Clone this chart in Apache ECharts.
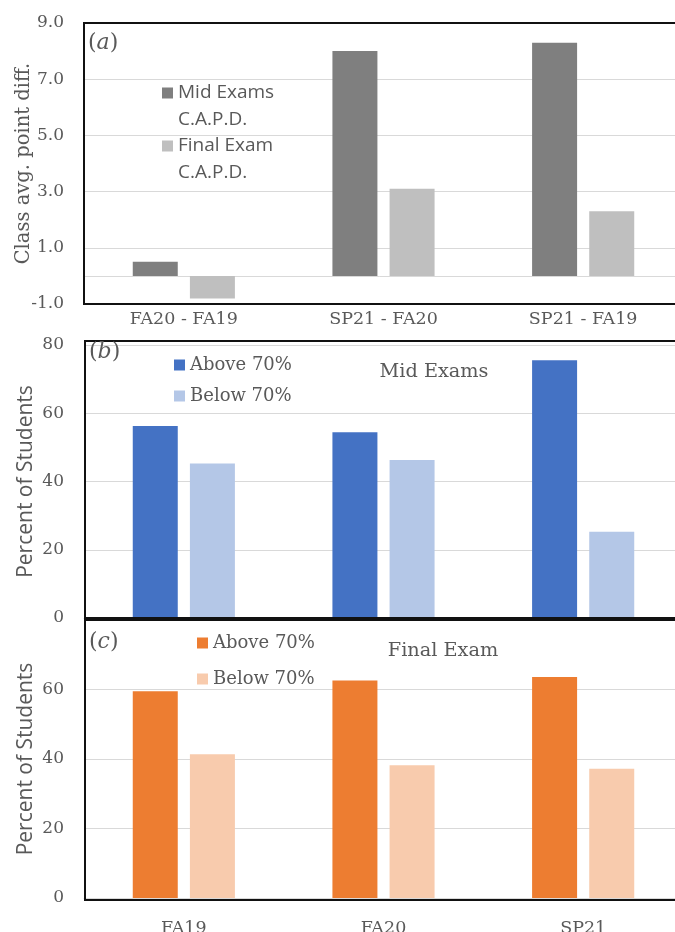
<!DOCTYPE html>
<html>
<head>
<meta charset="utf-8">
<script src="https://cdn.jsdelivr.net/npm/echarts@6/dist/echarts.min.js"></script>
<style>
html,body{margin:0;padding:0;background:#fff;}
#chart{width:675px;height:932px;}
</style>
</head>
<body>
<div id="chart"></div>
<script>
// ---- data ----
const diffCategories = ['FA20 - FA19', 'SP21 - FA20', 'SP21 - FA19'];
const midExamsCAPD = [0.5, 8.0, 8.3];
const finalExamCAPD = [-0.8, 3.1, 2.3];
const diffTicks = [-1, 1, 3, 5, 7, 9];

const terms = ['FA19', 'FA20', 'SP21'];
const midAbove70 = [56.3, 54.4, 75.5];
const midBelow70 = [45.3, 46.3, 25.3];
const finalAbove70 = [59.5, 62.6, 63.6];
const finalBelow70 = [41.4, 38.2, 37.2];
const percentTicks = [0, 20, 40, 60, 80];

// ---- style ----
const SERIF = 'DejaVu Serif';
const SANS = 'Open Sans';
const TXT = '#595959';
const GRID = '#d9d9d9';

const chart = echarts.init(document.getElementById('chart'), null, {renderer: 'canvas'});

function yAxisCommon(grid, ticks, name, nameFont, nameSize, nameGap, fmt, showMax) {
  return {
    gridIndex: grid, type: 'value',
    min: ticks[0], max: ticks[ticks.length - 1], interval: ticks[1] - ticks[0],
    name: name, nameLocation: 'middle', nameGap: nameGap, nameMoveOverlap: false,
    nameTextStyle: {fontFamily: nameFont, fontSize: nameSize, color: TXT},
    axisLine: {show: false}, axisTick: {show: false},
    axisLabel: {margin: 20, fontFamily: SERIF, fontSize: 17, color: TXT, formatter: fmt, showMaxLabel: showMax},
    splitLine: {lineStyle: {color: GRID, width: 1}}
  };
}

const barCommon = {type: 'bar', barWidth: 45, barGap: '27%'};

const option = {
  animation: false,
  backgroundColor: '#fff',
  grid: [
    {left: 84, width: 599, top: 23, height: 281, outerBoundsMode: 'none', containLabel: false},
    {left: 84, width: 599, top: 345, height: 273, outerBoundsMode: 'none', containLabel: false},
    {left: 84, width: 599, top: 620, height: 278, outerBoundsMode: 'none', containLabel: false}
  ],
  xAxis: [
    {gridIndex: 0, type: 'category', data: diffCategories, position: 'bottom',
     axisLine: {show: false, onZero: false}, axisTick: {show: false},
     axisLabel: {margin: 6, fontFamily: SERIF, fontSize: 17.5, color: TXT}},
    {gridIndex: 0, type: 'category', data: diffCategories, position: 'top',
     axisLine: {show: true, onZero: true, lineStyle: {color: GRID, width: 1}},
     axisTick: {show: false}, axisLabel: {show: false}},
    {gridIndex: 1, type: 'category', data: terms,
     axisLine: {show: true, lineStyle: {color: GRID}}, axisTick: {show: false}, axisLabel: {show: false}},
    {gridIndex: 2, type: 'category', data: terms,
     axisLine: {show: true, lineStyle: {color: GRID}}, axisTick: {show: false},
     axisLabel: {margin: 21, fontFamily: SERIF, fontSize: 17.5, color: TXT}}
  ],
  yAxis: [
    yAxisCommon(0, diffTicks, 'Class avg. point diff.', SERIF, 19.5, 50, v => v.toFixed(1), true),
    yAxisCommon(1, percentTicks, 'Percent of Students', SANS, 21, 47, v => String(v), true),
    yAxisCommon(2, percentTicks, 'Percent of Students', SANS, 21, 47, v => String(v), false)
  ],
  legend: [
    {data: ['Mid Exams C.A.P.D.', 'Final Exam C.A.P.D.'], orient: 'vertical',
     left: 162, top: 52.5, padding: 0, itemGap: -28, itemWidth: 11, itemHeight: 11, icon: 'rect',
     formatter: n => '\n' + n.replace(' C.A.P.D.', '\nC.A.P.D.'),
     textStyle: {fontFamily: SANS, fontSize: 19, color: TXT, lineHeight: 27}},
    {data: ['Mid: Above 70%', 'Mid: Below 70%'], orient: 'vertical',
     left: 174, top: 355, padding: 0, itemGap: 11, itemWidth: 11, itemHeight: 11, icon: 'rect',
     formatter: n => n.split(': ')[1],
     textStyle: {fontFamily: SERIF, fontSize: 18, color: TXT, lineHeight: 20}},
    {data: ['Final: Above 70%', 'Final: Below 70%'], orient: 'vertical',
     left: 197, top: 633, padding: 0, itemGap: 16, itemWidth: 11, itemHeight: 11, icon: 'rect',
     formatter: n => n.split(': ')[1],
     textStyle: {fontFamily: SERIF, fontSize: 18, color: TXT, lineHeight: 20}}
  ],
  series: [
    Object.assign({name: 'Mid Exams C.A.P.D.', xAxisIndex: 0, yAxisIndex: 0, data: midExamsCAPD, itemStyle: {color: '#7f7f7f'}}, barCommon),
    Object.assign({name: 'Final Exam C.A.P.D.', xAxisIndex: 0, yAxisIndex: 0, data: finalExamCAPD, itemStyle: {color: '#bfbfbf'}}, barCommon),
    Object.assign({name: 'Mid: Above 70%', xAxisIndex: 2, yAxisIndex: 1, data: midAbove70, itemStyle: {color: '#4472c4'}}, barCommon),
    Object.assign({name: 'Mid: Below 70%', xAxisIndex: 2, yAxisIndex: 1, data: midBelow70, itemStyle: {color: '#b4c7e7'}}, barCommon),
    Object.assign({name: 'Final: Above 70%', xAxisIndex: 3, yAxisIndex: 2, data: finalAbove70, itemStyle: {color: '#ed7d31'}}, barCommon),
    Object.assign({name: 'Final: Below 70%', xAxisIndex: 3, yAxisIndex: 2, data: finalBelow70, itemStyle: {color: '#f8cbad'}}, barCommon)
  ],
  graphic: [
    {type: 'rect', z: 100, silent: true, shape: {x: 84, y: 23, width: 640, height: 281}, style: {fill: 'none', stroke: '#111', lineWidth: 2}},
    {type: 'rect', z: 100, silent: true, shape: {x: 85, y: 341, width: 640, height: 277}, style: {fill: 'none', stroke: '#111', lineWidth: 2}},
    {type: 'rect', z: 100, silent: true, shape: {x: 85, y: 620, width: 640, height: 280}, style: {fill: 'none', stroke: '#111', lineWidth: 2}},
    {type: 'text', z: 101, silent: true, style: {text: '({i|a})', x: 88, y: 43, verticalAlign: 'middle', fontFamily: SERIF, fontSize: 22, fill: TXT,
      rich: {i: {fontStyle: 'italic', fontFamily: SERIF, fontSize: 22, fill: TXT}}}},
    {type: 'text', z: 101, silent: true, style: {text: '({i|b})', x: 89, y: 352, verticalAlign: 'middle', fontFamily: SERIF, fontSize: 22, fill: TXT,
      rich: {i: {fontStyle: 'italic', fontFamily: SERIF, fontSize: 22, fill: TXT}}}},
    {type: 'text', z: 101, silent: true, style: {text: '({i|c})', x: 89, y: 642, verticalAlign: 'middle', fontFamily: SERIF, fontSize: 22, fill: TXT,
      rich: {i: {fontStyle: 'italic', fontFamily: SERIF, fontSize: 22, fill: TXT}}}},
    {type: 'text', z: 101, silent: true, style: {text: 'Mid Exams', x: 434, y: 372, align: 'center', verticalAlign: 'middle', fontFamily: SERIF, fontSize: 19.3, fill: TXT}},
    {type: 'text', z: 101, silent: true, style: {text: 'Final Exam', x: 443, y: 651, align: 'center', verticalAlign: 'middle', fontFamily: SERIF, fontSize: 19.3, fill: TXT}}
  ]
};
chart.setOption(option);
</script>
</body>
</html>
